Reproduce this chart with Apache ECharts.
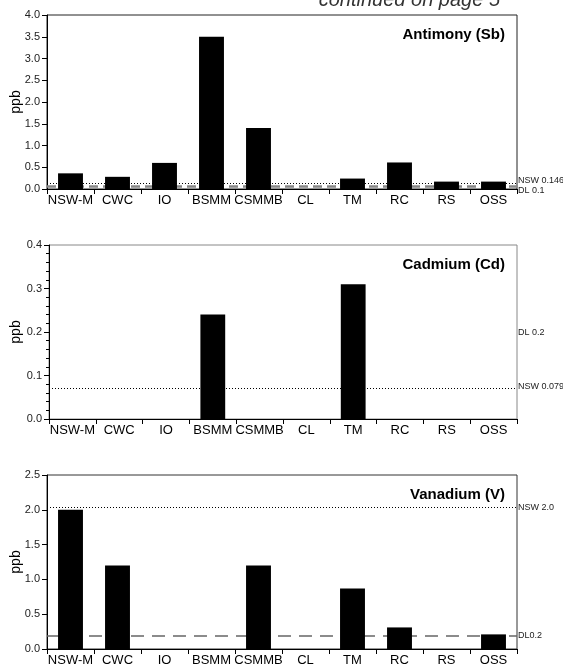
<!DOCTYPE html>
<html>
<head>
<meta charset="utf-8">
<script src="https://cdn.jsdelivr.net/npm/echarts@6/dist/echarts.min.js"></script>
<style>
    html, body { margin: 0; padding: 0; background: #fff; }
    #chart { width: 563px; height: 668px; }
</style>
</head>
<body>
<div id="chart"></div>
<script>
// Sites along the x axis (same for all three panels)
const categories = ["NSW-M", "CWC", "IO", "BSMM", "CSMMB", "CL", "TM", "RC", "RS", "OSS"];

// ppb values
const antimony = [0.36, 0.28, 0.60, 3.50, 1.40, 0, 0.24, 0.61, 0.17, 0.17];
const cadmium  = [0, 0, 0, 0.24, 0, 0, 0.31, 0, 0, 0];
const vanadium = [2.00, 1.20, 0, 0, 1.20, 0, 0.87, 0.31, 0, 0.21];

// reference lines: [value, label]
const sbNsw = [0.125, "NSW 0.146"], sbDl = [0.055, "DL 0.1"];
const cdNsw = [0.075, "NSW 0.079"], cdDl = [0.2, "DL 0.2"];
const vNsw  = [2.03, "NSW 2.0"],    vDl  = [0.19, "DL0.2"];

const yMax = [4, 0.4, 2.5];
const yStep = [0.5, 0.1, 0.5];
const titles = ["Antimony (Sb)", "Cadmium (Cd)", "Vanadium (V)"];

const font = "'Liberation Sans', Arial, Helvetica, sans-serif";

const grids = [
    { left: 47, width: 470, top: 15, height: 174, borderColor: "#222" },
    { left: 49, width: 468, top: 245, height: 174, borderColor: "#888" },
    { left: 47, width: 470, top: 475, height: 174, borderColor: "#333" }
].map(g => Object.assign({ show: true, borderWidth: 1, containLabel: false, outerBoundsMode: "none" }, g));

const dotted = { type: [1, 2], color: "#000", width: 1 };
const hidden = { color: "rgba(0,0,0,0)", width: 0 };

// [ref, lineStyle, label nudge in px]
const lines = [
    [[sbNsw, dotted, -3], [sbDl, { type: [9, 5], color: "#888", width: 2.5 }, 4]],
    [[cdNsw, dotted, 0], [cdDl, hidden, 1]],
    [[vNsw, dotted, 0], [vDl, { type: [13, 8], color: "#666", width: 1.5 }, 0]]
];

const values = [antimony, cadmium, vanadium];

const option = {
    backgroundColor: "#fff",
    animation: false,
    textStyle: { fontFamily: font },
    grid: grids,
    title: titles.map((t, i) => ({
        text: t,
        right: 53,
        top: grids[i].top + 7,
        textStyle: { fontFamily: font, fontSize: 15, fontWeight: "bold", color: "#000" }
    })),
    xAxis: grids.map((g, i) => ({
        type: "category",
        gridIndex: i,
        data: categories,
        boundaryGap: true,
        axisLine: { lineStyle: { color: "#000", width: 1 } },
        axisTick: { show: true, length: 5, lineStyle: { color: "#000" } },
        axisLabel: { fontSize: 13, color: "#000", margin: 5, interval: 0 },
        splitLine: { show: false }
    })),
    yAxis: grids.map((g, i) => ({
        type: "value",
        gridIndex: i,
        min: 0,
        max: yMax[i],
        interval: yStep[i],
        axisLine: { show: true, lineStyle: { color: "#000", width: 1 } },
        axisTick: { show: true, length: 5, lineStyle: { color: "#000" } },
        minorTick: { show: i === 1, splitNumber: 5, length: 3, lineStyle: { color: "#000" } },
        axisLabel: {
            fontSize: 11, color: "#222", margin: 7,
            formatter: v => v.toFixed(1)
        },
        splitLine: { show: false }
    })),
    series: values.map((vals, i) => ({
        type: "bar",
        xAxisIndex: i,
        yAxisIndex: i,
        data: vals,
        barWidth: "53%",
        itemStyle: { color: "#000" },
        z: 2,
        markLine: {
            z: 1,
            silent: true,
            symbol: "none",
            label: { show: false },
            data: lines[i].map(l => ({ yAxis: l[0][0], lineStyle: l[1] }))
        }
    }))
};

const chart = echarts.init(document.getElementById("chart"), null, { renderer: "canvas" });
chart.setOption(option);

// page note, axis names and labels for the reference lines
const texts = [{
    type: "text", right: 63, top: -10,
    style: { text: "continued on page 5", font: "italic 20px " + font, fill: "#333" }
}];
grids.forEach(g => {
    texts.push({
        type: "text", x: 16, y: g.top + g.height / 2, rotation: Math.PI / 2,
        style: { text: "ppb", font: "14px " + font, fill: "#000", textAlign: "center", textVerticalAlign: "middle" }
    });
});
lines.forEach((set, i) => {
    set.forEach(l => {
        const y = chart.convertToPixel({ yAxisIndex: i }, l[0][0]);
        texts.push({
            type: "text",
            x: grids[i].left + grids[i].width + 1,
            y: y + l[2],
            style: { text: l[0][1], font: "9px " + font, fill: "#222", textVerticalAlign: "middle" }
        });
    });
});
chart.setOption({ graphic: texts });
</script>
</body>
</html>
